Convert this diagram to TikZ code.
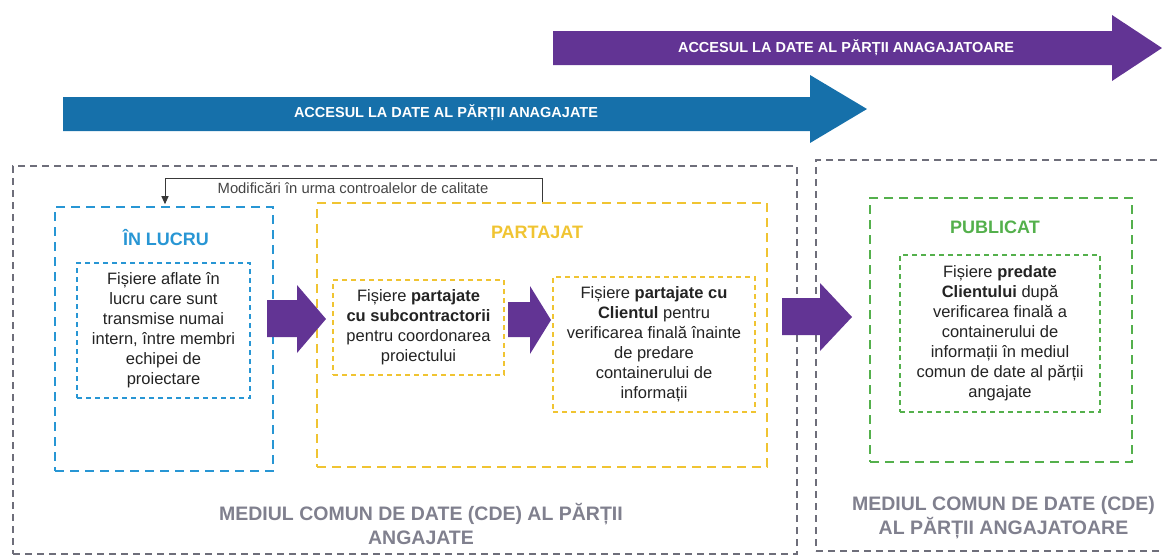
\documentclass[tikz,border=0pt]{standalone}
\usepackage{fontspec}
\setmainfont{Liberation Sans}
\usetikzlibrary{arrows.meta}
\definecolor{cblue}{RGB}{22,112,170}
\definecolor{cpurple}{RGB}{98,52,148}
\definecolor{cbox}{RGB}{40,150,212}
\definecolor{cyel}{RGB}{240,196,50}
\definecolor{cgreen}{RGB}{84,176,76}
\definecolor{cgray}{RGB}{110,110,122}
\definecolor{clabel}{RGB}{128,128,142}
\definecolor{ctext}{RGB}{35,35,35}
\tikzset{
  envbox/.style={draw=cgray, line width=1.5pt, dash pattern=on 7pt off 5pt, inner sep=0pt},
  stagebox/.style={line width=2.6pt, dash pattern=on 9pt off 6pt, inner sep=0pt},
  innerbox/.style={line width=1.3pt, dash pattern=on 5pt off 4pt, inner sep=0pt, align=center,
    text=ctext, font=\fontsize{16.5}{20}\selectfont},
  stagetitle/.style={font=\fontsize{18}{20}\selectfont\bfseries, inner sep=0pt},
  envlabel/.style={font=\fontsize{19.5}{24}\selectfont\bfseries, text=clabel, align=center, inner sep=0pt},
  arrowlabel/.style={font=\fontsize{14.5}{16}\selectfont\bfseries, text=white, inner sep=0pt},
  fblabel/.style={font=\fontsize{14.8}{16}\selectfont, text=ctext!85, inner sep=0pt},
  fbline/.style={draw=ctext!90, line width=1pt},
  blockarrow/.style={fill=cpurple},
}
\begin{document}
\begin{tikzpicture}[x=1pt,y=-1pt]
\useasboundingbox (0,0) rectangle (1162,558);
\clip (0,0) rectangle (1162,558);

% access arrows
\fill[cpurple] (553,31) -- (1112,31) -- (1112,15) -- (1162,48) -- (1112,81) -- (1112,65) -- (553,65) -- cycle;
\node[arrowlabel] (accA) at (846,48) {ACCESUL LA DATE AL PĂRȚII ANAGAJATOARE};
\fill[cblue] (63,97) -- (810,97) -- (810,75) -- (867,109) -- (810,143) -- (810,131) -- (63,131) -- cycle;
\node[arrowlabel] (accB) at (446,113) {ACCESUL LA DATE AL PĂRȚII ANAGAJATE};

% environments
\node[envbox, minimum width=784, minimum height=388] (envA) at (405,360) {};
\node[envbox, minimum width=359, minimum height=391] (envB) at (995.5,355.5) {};
\node[envlabel] (labA) at (421,524) {MEDIUL COMUN DE DATE (CDE) AL PĂRȚII\\ANGAJATE};
\node[envlabel] (labB) at (1003.5,518) {MEDIUL COMUN DE DATE (CDE)\\AL PĂRȚII ANGAJATOARE};

% stages
\node[stagebox, draw=cbox, minimum width=218, minimum height=264] (lucru) at (164,339) {};
\node[stagetitle, text=cbox] (tLucru) at (166,238) {ÎN LUCRU};
\node[innerbox, draw=cbox, minimum width=173, minimum height=135] (iLucru) at (163.5,330.5)
  {Fișiere aflate în\\lucru care sunt\\transmise numai\\intern, între membri\\echipei de\\proiectare};

\node[stagebox, draw=cyel, minimum width=450, minimum height=264] (partajat) at (542,335) {};
\node[stagetitle, text=cyel] (tPart) at (537,232) {PARTAJAT};
\node[innerbox, draw=cyel, minimum width=171, minimum height=95] (iPart1) at (418.5,327.5)
  {Fișiere \textbf{partajate}\\\textbf{cu subcontractorii}\\pentru coordonarea\\proiectului};
\node[innerbox, draw=cyel, minimum width=202, minimum height=135] (iPart2) at (654,344.5)
  {Fișiere \textbf{partajate cu}\\\textbf{Clientul} pentru\\verificarea finală înainte\\de predare\\containerului de\\informații};

\node[stagebox, draw=cgreen, minimum width=262, minimum height=264] (publicat) at (1001,330) {};
\node[stagetitle, text=cgreen] (tPub) at (995,227) {PUBLICAT};
\node[innerbox, draw=cgreen, minimum width=200, minimum height=157] (iPub) at (1000,333.5)
  {Fișiere \textbf{predate}\\\textbf{Clientului} după\\verificarea finală a\\containerului de\\informații în mediul\\comun de date al părții\\angajate};

% block arrows between stages
\fill[blockarrow] (267,300) -- (297,300) -- (297,285) -- (326,319) -- (297,353) -- (297,337) -- (267,337) -- cycle;
\fill[blockarrow] (508,302) -- (530,302) -- (530,286) -- (551,320) -- (530,354) -- (530,337) -- (508,337) -- cycle;
\fill[blockarrow] (782,298) -- (820,298) -- (820,283) -- (852,317) -- (820,351) -- (820,335) -- (782,335) -- cycle;

% feedback loop
\draw[fbline, -{Triangle[length=8pt,width=7pt]}, shorten >=1.5pt]
  (542,0 |- partajat.north) |- (165,178) -- (165,0 |- lucru.north);
\node[fblabel] (fb) at (353,188) {Modificări în urma controalelor de calitate};
\end{tikzpicture}
\end{document}
